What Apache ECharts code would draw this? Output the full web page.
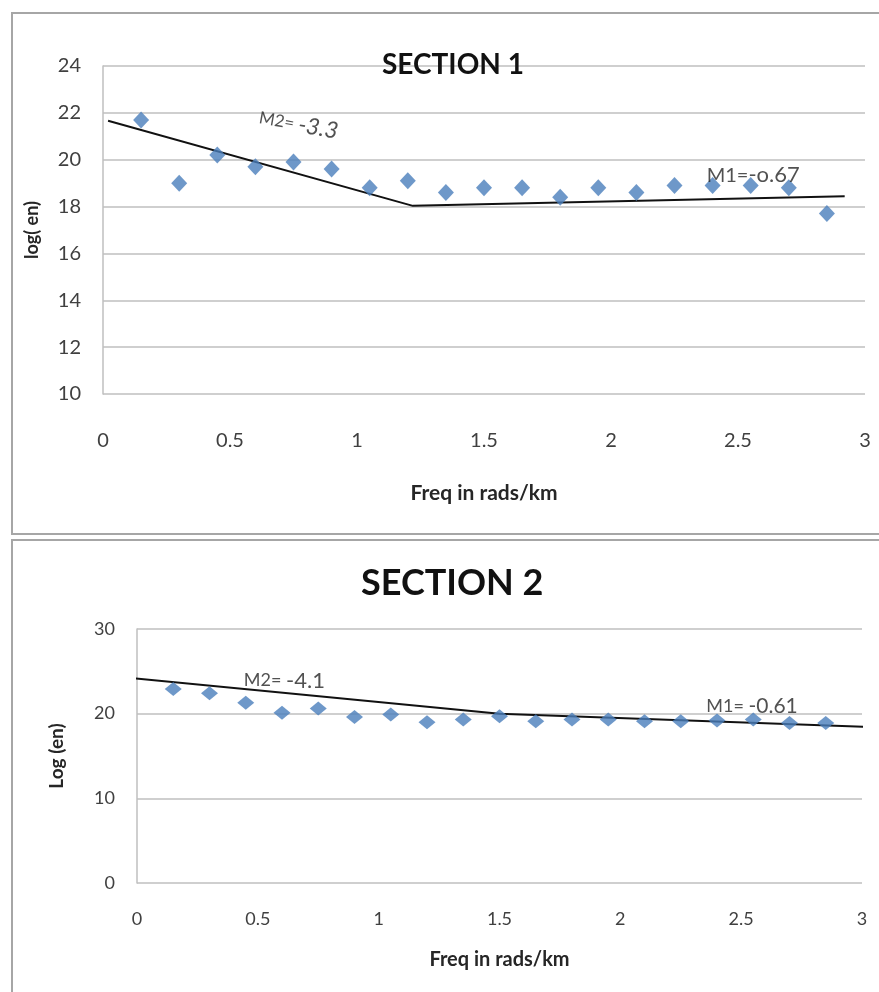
<!DOCTYPE html>
<html>
<head>
<meta charset="utf-8">
<script src="https://cdn.jsdelivr.net/npm/echarts@6/dist/echarts.min.js"></script>
<style>
html,body{margin:0;padding:0;background:#fff;}
#c{width:879px;height:992px;}
</style>
</head>
<body>
<div id="c"></div>
<script>
// ---- data ----
const freq = [0.15,0.3,0.45,0.6,0.75,0.9,1.05,1.2,1.35,1.5,1.65,1.8,1.95,2.1,2.25,2.4,2.55,2.7,2.85];
const section1 = [21.7,19.0,20.2,19.7,19.9,19.6,18.8,19.1,18.6,18.8,18.8,18.4,18.8,18.6,18.9,18.9,18.9,18.8,17.7];
const section2 = [22.9,22.4,21.3,20.1,20.6,19.6,19.9,19.0,19.3,19.7,19.1,19.3,19.3,19.1,19.1,19.2,19.3,18.9,18.9];
const fit1X = [0.02,1.22,2.92];
const fit1Y = [21.66,18.03,18.44];
const fit2X = [-0.02,1.5,3.07];
const fit2Y = [24.2,20.0,18.4];
const titles = ['SECTION 1','SECTION 2'];
const yNames = ['log( en)','Log (en)'];
const xName = 'Freq in rads/km';
const notes1 = [{x:0.77,y:21.5,a:'M2= ',b:'-3.3'},{x:2.56,y:19.34,a:'M1=',b:'-o.67'}];
const notes2 = [{x:0.61,y:23.9,a:'M2= ',b:'-4.1'},{x:2.545,y:20.9,a:'M1= ',b:'-0.61'}];

const FONT = 'Lato';
const pts = (xs, ys) => xs.map((x,i)=>[x, ys[i]]);

const chart = echarts.init(document.getElementById('c'), null, {renderer:'canvas'});

function xAxisCfg(gi, margin, gap, size, nsize){
  return {type:'value', gridIndex:gi, min:0, max:3, interval:0.5,
    axisLine:{show:false}, axisTick:{show:false}, splitLine:{show:false},
    axisLabel:{margin:margin, color:'#404040', fontSize:size, fontFamily:FONT},
    name:xName, nameLocation:'middle', nameGap:gap,
    nameTextStyle:{fontFamily:FONT, fontWeight:'bold', fontSize:nsize, color:'#262626'}};
}
function yAxisCfg(gi, min, max, interval, gap, size, nsize, name){
  return {type:'value', gridIndex:gi, min:min, max:max, interval:interval,
    axisLine:{show:true, lineStyle:{color:'#bfbfbf', width:1.5}}, axisTick:{show:false},
    splitLine:{show:true, lineStyle:{color:'#bfbfbf', width:1.5}},
    axisLabel:{margin:22, color:'#404040', fontSize:size, fontFamily:FONT},
    name:name, nameLocation:'middle', nameGap:gap, nameRotate:90,
    nameTextStyle:{fontFamily:FONT, fontWeight:'bold', fontSize:nsize, color:'#262626'}};
}
function noteSeries(xi, notes, rot, sizes, italicB){
  return {type:'scatter', xAxisIndex:xi, yAxisIndex:xi, symbolSize:0, silent:true, z:5,
    data: notes.map((n,i)=>({value:[n.x,n.y], label:{show:true, position:'inside', rotate: i===0 ? rot : 0,
      formatter:'{a|'+n.a+'}{b|'+n.b+'}',
      rich:{a:{fontSize:sizes[i][0], fontFamily:FONT, color:'#262626'},
            b:{fontSize:sizes[i][1], fontStyle:(italicB&&i===0)?'italic':'normal', fontFamily:FONT, color:'#262626'}}}}))};
}

chart.setOption({
  backgroundColor:'#fff',
  animation:false,
  title:[
    {text:titles[0], left:377, top:46, textStyle:{fontFamily:FONT, fontWeight:'bold', fontSize:28, color:'#111'}},
    {text:titles[1], left:356, top:560, textStyle:{fontFamily:FONT, fontWeight:'bold', fontSize:36, color:'#111'}}
  ],
  graphic:[
    {type:'rect', shape:{x:12,y:13,width:900,height:521}, style:{fill:'none', stroke:'#a6a6a6', lineWidth:2}, z:-1},
    {type:'rect', shape:{x:12,y:540,width:900,height:500}, style:{fill:'none', stroke:'#a6a6a6', lineWidth:2}, z:-1}
  ],
  grid:[
    {left:103, top:66, width:762, height:328},
    {left:137, top:629, width:725, height:254}
  ],
  xAxis:[ xAxisCfg(0, 37, 89, 20, 21), xAxisCfg(1, 27, 67, 18, 20) ],
  yAxis:[ yAxisCfg(0, 10, 24, 2, 62, 20, 18, yNames[0]), yAxisCfg(1, 0, 30, 10, 71, 18, 19, yNames[1]) ],
  series:[
    {type:'line', xAxisIndex:0, yAxisIndex:0, data:pts(fit1X,fit1Y), showSymbol:false, symbol:'none', clip:false,
      lineStyle:{color:'#111', width:2}, z:2},
    {type:'scatter', xAxisIndex:0, yAxisIndex:0, data:pts(freq,section1), symbol:'diamond', symbolSize:[16,17],
      itemStyle:{color:'#4a7ebb'}, z:3},
    {type:'line', xAxisIndex:1, yAxisIndex:1, data:pts(fit2X,fit2Y), showSymbol:false, symbol:'none', clip:false,
      lineStyle:{color:'#111', width:2}, z:2},
    {type:'scatter', xAxisIndex:1, yAxisIndex:1, data:pts(freq,section2), symbol:'diamond', symbolSize:[17,14],
      itemStyle:{color:'#4a7ebb'}, z:3},
    noteSeries(0, notes1, -10, [[17,23],[20,22]], true),
    noteSeries(1, notes2, 0, [[18,22],[18,21]], false)
  ]
});
</script>
</body>
</html>
